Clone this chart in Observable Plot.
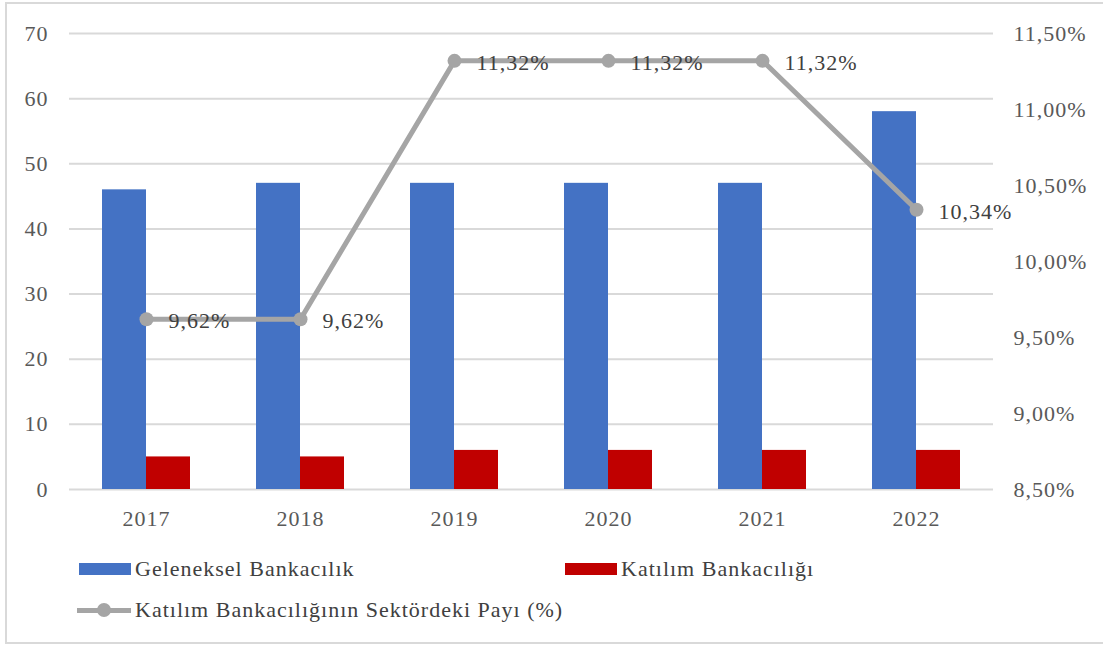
<!DOCTYPE html>
<html>
<head>
<meta charset="utf-8">
<script src="https://cdn.jsdelivr.net/npm/d3@7"></script>
<script src="https://cdn.jsdelivr.net/npm/@observablehq/plot@0.6"></script>
<style>
  html, body { margin: 0; padding: 0; background: #fff; }
  body { position: relative; width: 1103px; height: 645px; overflow: hidden; font-family: "Liberation Serif", "Times New Roman", "DejaVu Serif", serif; }
  #frame { position: absolute; left: 5px; top: 2px; width: 1110px; height: 638px; border: 2px solid #d9d9d9; }
  #chart { position: absolute; left: 0; top: 0; }
  .legend { position: absolute; font-family: "Liberation Serif", "Times New Roman", "DejaVu Serif", serif; font-size: 22px; letter-spacing: 1px; color: #404040; display: flex; align-items: center; white-space: nowrap; }
  .sw { width: 52px; height: 12px; margin-right: 4px; }
  .ln { position: relative; width: 54px; height: 14px; margin-right: 4px; }
  .ln::before { content: ""; position: absolute; left: 0; right: 0; top: 5px; height: 5px; background: #A5A5A5; }
  .ln::after { content: ""; position: absolute; left: 20px; top: 0; width: 14px; height: 14px; border-radius: 50%; background: #A5A5A5; }
  #chart svg text { letter-spacing: 1px; }
</style>
</head>
<body>
<div id="frame"></div>
<div id="chart"></div>
<div class="legend" style="left:79px; top:556px;"><div class="sw" style="background:#4472C4"></div>Geleneksel Bankacılık</div>
<div class="legend" style="left:565px; top:556px;"><div class="sw" style="background:#C00000"></div>Katılım Bankacılığı</div>
<div class="legend" style="left:77px; top:597px;"><div class="ln"></div>Katılım Bankacılığının Sektördeki Payı (%)</div>
<script>
const years = ["2017", "2018", "2019", "2020", "2021", "2022"];
const geleneksel = [46, 47, 47, 47, 47, 58];
const katilim = [5, 5, 6, 6, 6, 6];
const pay = [9.62, 9.62, 11.32, 11.32, 11.32, 10.34];
const leftTicks = [0, 10, 20, 30, 40, 50, 60, 70];
const rightTicks = [8.5, 9.0, 9.5, 10.0, 10.5, 11.0, 11.5];
const leftDomain = [0, 70];
const rightDomain = [8.5, 11.5];

const rows = years.map((year, i) => ({year, gel: geleneksel[i], kat: katilim[i], pay: pay[i]}));
const toLeft = d3.scaleLinear().domain(rightDomain).range(leftDomain);
const fmtPct = v => v.toFixed(2).replace(".", ",") + "%";
const serif = '"Liberation Serif", "Times New Roman", "DejaVu Serif", serif';

const chart = Plot.plot({
  width: 1103,
  height: 539,
  marginLeft: 69,
  marginRight: 110,
  marginTop: 33,
  marginBottom: 50,
  style: {fontFamily: serif, fontSize: "22px", background: "transparent"},
  x: {type: "band", domain: years, padding: 0, axis: null, label: null},
  y: {domain: leftDomain, axis: null, label: null},
  marks: [
    Plot.gridY(leftTicks, {stroke: "#d9d9d9", strokeOpacity: 1, strokeWidth: 2}),
    Plot.barY(rows, {x: "year", y: "gel", fill: "#4472C4", insetLeft: 33, insetRight: 77}),
    Plot.barY(rows, {x: "year", y: "kat", fill: "#C00000", insetLeft: 77, insetRight: 33}),
    Plot.axisY(leftTicks, {anchor: "left", label: null, tickSize: 0, tickPadding: 21, fill: "#595959", fontFamily: serif, tickFormat: d => String(d)}),
    Plot.axisY(rightTicks.map(v => toLeft(v)), {anchor: "right", label: null, tickSize: 0, tickPadding: 20, fill: "#595959", fontFamily: serif, tickFormat: v => fmtPct(toLeft.invert(v))}),
    Plot.axisX(years, {anchor: "bottom", label: null, tickSize: 0, tickPadding: 21, fill: "#595959", fontFamily: serif}),
    Plot.line(rows, {x: "year", y: d => toLeft(d.pay), stroke: "#A5A5A5", strokeWidth: 5}),
    Plot.dot(rows, {x: "year", y: d => toLeft(d.pay), r: 7, fill: "#A5A5A5", stroke: null}),
    Plot.text(rows, {x: "year", y: d => toLeft(d.pay), text: d => fmtPct(d.pay), dx: 22, dy: 2, textAnchor: "start", fill: "#404040", fontSize: 22, fontFamily: serif})
  ]
});
document.getElementById("chart").appendChild(chart);
</script>
</body>
</html>
